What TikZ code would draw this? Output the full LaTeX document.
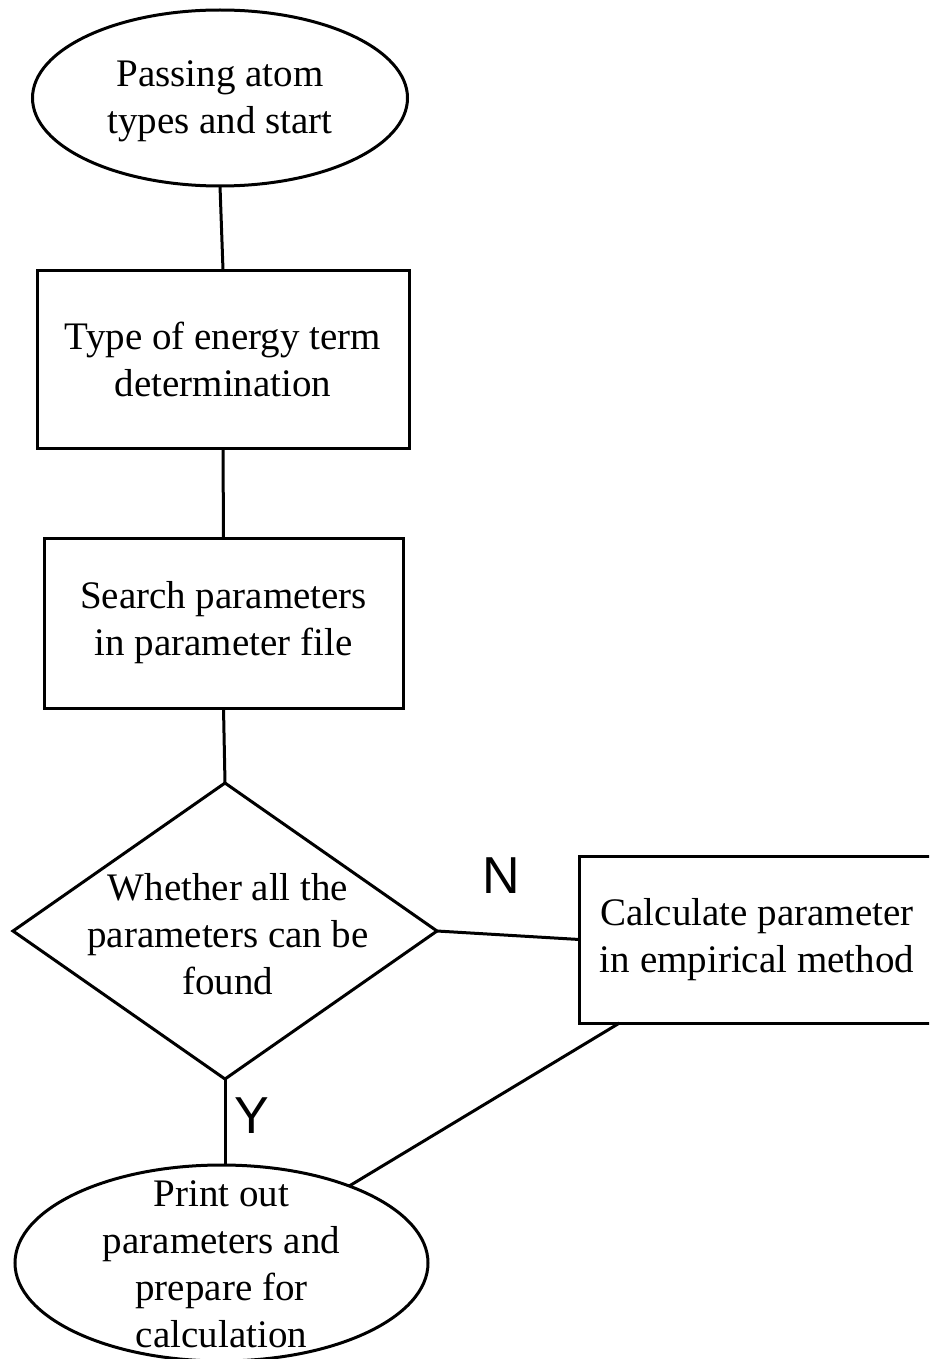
\documentclass[tikz,border=0pt]{standalone}
\usepackage{fontspec}
\setmainfont{Liberation Serif}
\newfontfamily\labelfont{Liberation Sans}
\usetikzlibrary{shapes.geometric,calc}
\tikzset{
  shapeline/.style={draw=black, line width=3pt, inner sep=0pt, outer sep=0pt},
  boxshape/.style={shapeline, rectangle, align=center, font=\fontsize{39}{47}\selectfont},
  ovalshape/.style={shapeline, ellipse, align=center, font=\fontsize{39}{47}\selectfont},
  diashape/.style={shapeline, diamond},
  bodytext/.style={align=center, inner sep=0pt, font=\fontsize{39}{47}\selectfont},
  yn/.style={inner sep=0pt, font=\labelfont\fontsize{52}{60}\selectfont},
  link/.style={draw=black, line width=3pt}
}
\begin{document}
\begin{tikzpicture}[x=1pt, y=-1pt]
\clip (0,0) rectangle (929,1359);
\useasboundingbox (0,0) rectangle (929,1359);
\fill[white] (0,0) rectangle (929,1359);

\node[ovalshape, minimum width=375pt, minimum height=176pt] (start) at (220,98) {};
\node[bodytext] (starttxt) at (220,101) {Passing atom\\types and start};
\node[boxshape, minimum width=372pt, minimum height=178pt] (box1) at (223,359) {Type of energy term\\determination};
\node[boxshape, minimum width=359pt, minimum height=170pt] (box2) at (223.5,623) {Search parameters\\in parameter file};
\node[diashape, minimum width=424pt, minimum height=296pt] (dec) at (225,931) {};
\node[bodytext] (dectxt) at (228,934) {Whether all the\\parameters can be\\found};
\node[boxshape, minimum width=355pt, minimum height=167pt] (box3) at (757,939.5) {Calculate parameter\\in empirical method};
\node[ovalshape, minimum width=413pt, minimum height=196pt] (end) at (221.5,1263) {};
\node[bodytext] (endtxt) at (221.5,1264) {Print out\\parameters and\\prepare for\\calculation};

\node[yn] (nlabel) at (501,876) {N};
\node[yn] (ylabel) at (252,1116) {Y};

\coordinate (b3out) at ($(box3.south west)+(40,0)$);

\draw[link] (start.south) -- (box1.north);
\draw[link] (box1.south) -- (box2.north);
\draw[link] (box2.south) -- (dec.north);
\draw[link] (dec.east) -- (box3.west);
\draw[link] (dec.south) -- (dec.south |- end.north);
\draw[link] (b3out) -- (end);
\end{tikzpicture}
\end{document}
